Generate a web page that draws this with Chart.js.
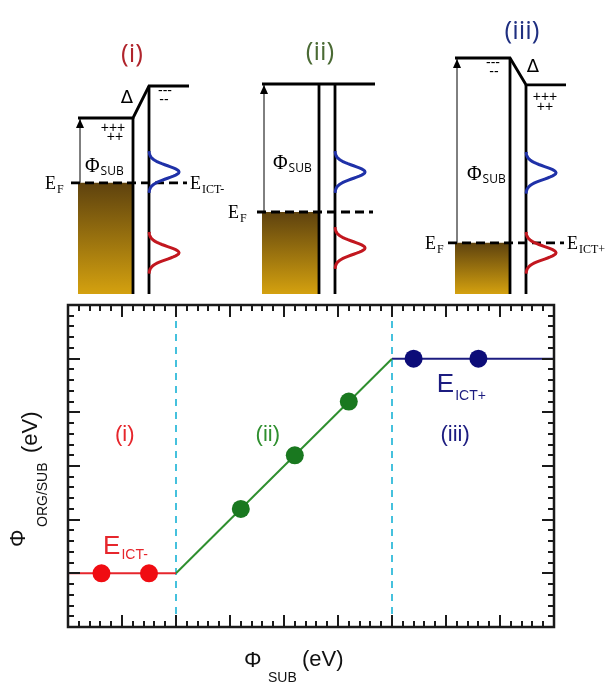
<!DOCTYPE html>
<html>
<head>
<meta charset="utf-8">
<script src="https://cdn.jsdelivr.net/npm/chart.js@4.4.0/dist/chart.umd.min.js"></script>
<style>
  html, body { margin: 0; padding: 0; background: #fff; }
  #wrap { position: relative; width: 610px; height: 684px; }
  #topBox { position: absolute; left: 0; top: 0; width: 610px; height: 300px; }
  #mainBox { position: absolute; left: 0; top: 300px; width: 610px; height: 384px; }
</style>
</head>
<body>
<div id="wrap">
  <div id="topBox"><canvas id="bandChart"></canvas></div>
  <div id="mainBox"><canvas id="mainChart"></canvas></div>
</div>
<script>
// ---- main plot data (arbitrary eV units, no tick labels) ----
const xRange = [0, 9];
const yRange = [0, 6];
const regionNames = ["(i)", "(ii)", "(iii)"];
const regionBounds = [2, 6];
const fitX = [0, 2, 6, 9];
const fitY = [1, 1, 5, 5];
const redX = [0.62, 1.5];
const redY = [1, 1];
const greenX = [3.2, 4.2, 5.2];
const greenY = [2.2, 3.2, 4.2];
const blueX = [6.4, 7.6];
const blueY = [5, 5];

// ---- band diagrams: energy levels on a schematic eV scale ----
const panelNames = ["(i)", "(ii)", "(iii)"];
const vacSub = [4.55, 5.4, 6.05];
const vacOrg = [5.35, 5.4, 5.38];
const fermiLevel = [2.93, 2.2, 1.43];
const ictMinusLevel = [3.2, 3.2, 3.18];
const ictPlusLevel = [1.18, 1.3, 1.18];
const bandBottom = 0.15;

// colours
const cRed = "#e6262c", cGreen = "#2f8f2f", cNavy = "#1c1c80", cCyan = "#45c1dd";
const titleColors = ["#b0242c", "#4a6a34", "#1f2f80"];
const dosBlue = "#1f31a8", dosRed = "#c2171f";

// layout of the schematic (x in canvas px units)
const band = {
  edge: [133, 319, 510],
  metalWidth: [55, 57, 55],
  gap: 16,
  orgWidth: 40,
  fermiFrom: 62,
  fermiTo: 54,
  arrowDx: 2,
  dosHeight: 30,
  titleE: [6.13, 6.18, 6.7],
  titleDx: [-1, 1, 12],
  phiE: [3.375, 3.45, 3.175],
  phiDx: [-48, -46, -43],
  efDx: [-88, -91, -85],
  ictSub: ["ICT-", null, "ICT+"],
  delta: [{ dx: -6, e: 5.05 }, null, { dx: 23, e: 5.825 }],
  charges: [
    [["+++", -20, 4.3], ["++", -18, 4.075], ["---", 32, 5.225], ["--", 31, 5.0]],
    [],
    [["---", -17, 5.925], ["--", -16, 5.7], ["+++", 35, 5.075], ["++", 35, 4.825]],
  ],
};

const toPts = (xs, ys) => xs.map((x, i) => ({ x: x, y: ys[i] }));

function metalGradient(chart, p) {
  const { ctx, chartArea, scales } = chart;
  if (!chartArea) return "#a07a18";
  const y0 = scales.y.getPixelForValue(fermiLevel[p]);
  const y1 = scales.y.getPixelForValue(bandBottom);
  const g = ctx.createLinearGradient(0, y0, 0, y1);
  g.addColorStop(0, "#5e420e");
  g.addColorStop(1, "#d4a10f");
  return g;
}

function subText(ctx, x, y, main, sub, mainFont, subFont, drop) {
  ctx.font = mainFont;
  ctx.fillText(main, x, y);
  const w = ctx.measureText(main).width;
  ctx.font = subFont;
  ctx.fillText(sub, x + w + 1, y + drop);
}

function drawDos(ctx, xs, ys, x0, e0, color) {
  ctx.beginPath();
  for (let i = 0; i <= 40; i++) {
    const e = e0 - 0.52 + (i * 0.52) / 20;
    const g = Math.exp(-0.5 * Math.pow((e - e0) / 0.16, 2));
    const px = xs.getPixelForValue(x0 + band.dosHeight * g);
    const py = ys.getPixelForValue(e);
    if (i === 0) ctx.moveTo(px, py);
    else ctx.lineTo(px, py);
  }
  ctx.strokeStyle = color;
  ctx.lineWidth = 3;
  ctx.stroke();
}

// ---------- top: band diagrams ----------
const bandDatasets = [];
panelNames.forEach((name, p) => {
  const R = band.edge[p];
  const L = R - band.metalWidth[p];
  const O = R + band.gap;
  const line = { borderColor: "#000", borderWidth: 2.8, showLine: true, pointRadius: 0 };
  bandDatasets.push(
    {
      data: [{ x: L, y: fermiLevel[p] }, { x: R, y: fermiLevel[p] }],
      showLine: true, pointRadius: 0, borderWidth: 0,
      fill: { value: bandBottom },
      backgroundColor: (c) => metalGradient(c.chart, p),
      order: 3,
    },
    Object.assign({}, line, {
      data: [{ x: L, y: vacSub[p] }, { x: R, y: vacSub[p] }, { x: O, y: vacOrg[p] }, { x: O + band.orgWidth, y: vacOrg[p] }],
      order: 1,
    }),
    Object.assign({}, line, { data: [{ x: R, y: vacSub[p] }, { x: R, y: bandBottom }], order: 1 }),
    Object.assign({}, line, { data: [{ x: O, y: vacOrg[p] }, { x: O, y: bandBottom }], order: 1 }),
    Object.assign({}, line, {
      data: [{ x: R - band.fermiFrom, y: fermiLevel[p] }, { x: R + band.fermiTo, y: fermiLevel[p] }],
      borderDash: [9, 5], order: 0,
    }),
    Object.assign({}, line, {
      data: [{ x: L + band.arrowDx, y: fermiLevel[p] }, { x: L + band.arrowDx, y: vacSub[p] }],
      borderWidth: 1, order: 2,
    })
  );
});

const bandLabels = {
  id: "bandLabels",
  afterDatasetsDraw(chart) {
    const { ctx, scales: { x, y } } = chart;
    ctx.save();
    panelNames.forEach((name, p) => {
      const R = band.edge[p];
      const L = R - band.metalWidth[p];
      const O = R + band.gap;
      drawDos(ctx, x, y, O, ictMinusLevel[p], dosBlue);
      drawDos(ctx, x, y, O, ictPlusLevel[p], dosRed);

      // arrow head on the work function arrow
      const ax = x.getPixelForValue(L + band.arrowDx);
      const ay = y.getPixelForValue(vacSub[p]) + 1;
      ctx.fillStyle = "#000";
      ctx.beginPath();
      ctx.moveTo(ax, ay);
      ctx.lineTo(ax - 4, ay + 9);
      ctx.lineTo(ax + 4, ay + 9);
      ctx.closePath();
      ctx.fill();

      // panel title
      ctx.fillStyle = titleColors[p];
      ctx.font = '26px "Open Sans", "Liberation Sans", sans-serif';
      ctx.textAlign = "center";
      ctx.textBaseline = "middle";
      ctx.fillText(name, x.getPixelForValue(R + band.titleDx[p]), y.getPixelForValue(band.titleE[p]));

      ctx.textAlign = "left";
      ctx.textBaseline = "alphabetic";
      ctx.fillStyle = "#000";
      // Φ_SUB
      subText(ctx, x.getPixelForValue(R + band.phiDx[p]), y.getPixelForValue(band.phiE[p]) + 7,
        "\u03A6", "SUB", '20px "Liberation Serif", serif', '12px "Open Sans", sans-serif', 3);
      // E_F
      const ef = y.getPixelForValue(fermiLevel[p]);
      subText(ctx, x.getPixelForValue(R + band.efDx[p]), ef + 6,
        "E", "F", '18px "Liberation Serif", serif', '12px "Liberation Serif", serif', 4);
      if (band.ictSub[p]) {
        subText(ctx, x.getPixelForValue(R + band.fermiTo + 3), ef + 6,
          "E", band.ictSub[p], '18px "Liberation Serif", serif', '12px "Liberation Serif", serif', 4);
      }
      // Δ and interface charges
      ctx.textAlign = "center";
      ctx.textBaseline = "middle";
      if (band.delta[p]) {
        ctx.font = '18px "DejaVu Sans", sans-serif';
        ctx.fillText("\u0394", x.getPixelForValue(R + band.delta[p].dx), y.getPixelForValue(band.delta[p].e));
      }
      ctx.font = '14px "Liberation Sans", sans-serif';
      band.charges[p].forEach(([t, dx, e]) => {
        ctx.fillText(t, x.getPixelForValue(R + dx), y.getPixelForValue(e));
      });
    });
    ctx.restore();
  },
};

new Chart(document.getElementById("bandChart"), {
  type: "scatter",
  data: { datasets: bandDatasets },
  options: {
    responsive: true,
    maintainAspectRatio: false,
    animation: false,
    layout: { padding: 0, autoPadding: false },
    elements: { point: { radius: 0 }, line: { tension: 0 } },
    plugins: { legend: { display: false }, tooltip: { enabled: false } },
    scales: {
      x: { type: "linear", display: false, min: 0, max: 610 },
      y: { type: "linear", display: false, min: 0, max: 7.5 },
    },
  },
  plugins: [bandLabels],
});

// ---------- bottom: Φ_ORG/SUB vs Φ_SUB ----------
const mainDatasets = [
  { data: toPts(redX, redY), pointRadius: 9, backgroundColor: "#f00c12", borderWidth: 0, order: 0 },
  { data: toPts(greenX, greenY), pointRadius: 9, backgroundColor: "#19781f", borderWidth: 0, order: 0 },
  { data: toPts(blueX, blueY), pointRadius: 9, backgroundColor: "#0c0c78", borderWidth: 0, order: 0 },
  { data: toPts(fitX.slice(0, 2), fitY.slice(0, 2)), showLine: true, borderColor: cRed, borderWidth: 2, pointRadius: 0, order: 1 },
  { data: toPts(fitX.slice(1, 3), fitY.slice(1, 3)), showLine: true, borderColor: cGreen, borderWidth: 2, pointRadius: 0, order: 1 },
  { data: toPts(fitX.slice(2, 4), fitY.slice(2, 4)), showLine: true, borderColor: cNavy, borderWidth: 2, pointRadius: 0, order: 1 },
].concat(regionBounds.map((b) => ({
  data: [{ x: b, y: yRange[0] }, { x: b, y: yRange[1] }],
  showLine: true, borderColor: cCyan, borderWidth: 2, borderDash: [7, 6], pointRadius: 0, order: 2,
})));

const regionLabelX = [1.05, 3.7, 7.17];
const regionLabelY = 3.58;
const regionColors = [cRed, cGreen, cNavy];

function tick(ctx, x0, y0, x1, y1) {
  ctx.beginPath();
  ctx.moveTo(x0, y0);
  ctx.lineTo(x1, y1);
  ctx.stroke();
}

const frameAndLabels = {
  id: "frameAndLabels",
  afterDraw(chart) {
    const { ctx, chartArea: a, scales: { x, y } } = chart;
    ctx.save();
    ctx.setLineDash([]);
    // inward ticks on all four sides: majors every 1, minors every 0.2
    ctx.strokeStyle = "#1a1a1a";
    ctx.lineWidth = 2;
    const nx = Math.round((xRange[1] - xRange[0]) / 0.2);
    for (let i = 1; i < nx; i++) {
      const px = Math.round(x.getPixelForValue(xRange[0] + i * 0.2));
      const len = i % 5 === 0 ? 12 : 6;
      tick(ctx, px, a.bottom, px, a.bottom - len);
      tick(ctx, px, a.top, px, a.top + len);
    }
    const ny = Math.round((yRange[1] - yRange[0]) / 0.2);
    for (let i = 1; i < ny; i++) {
      const py = Math.round(y.getPixelForValue(yRange[0] + i * 0.2));
      const len = i % 5 === 0 ? 12 : 6;
      tick(ctx, a.left, py, a.left + len, py);
      tick(ctx, a.right, py, a.right - len, py);
    }
    ctx.lineWidth = 2.5;
    ctx.strokeRect(a.left, a.top, a.right - a.left, a.bottom - a.top);

    // region labels
    ctx.font = '22px "Liberation Sans", Arial, sans-serif';
    ctx.textAlign = "center";
    ctx.textBaseline = "middle";
    regionNames.forEach((t, i) => {
      ctx.fillStyle = regionColors[i];
      ctx.fillText(t, x.getPixelForValue(regionLabelX[i]), y.getPixelForValue(regionLabelY));
    });

    ctx.textAlign = "left";
    ctx.textBaseline = "alphabetic";
    ctx.fillStyle = cRed;
    subText(ctx, x.getPixelForValue(0.65), y.getPixelForValue(1.36), "E", "ICT-",
      '26px "Liberation Sans", Arial, sans-serif', '14px "Liberation Sans", Arial, sans-serif', 5);
    ctx.fillStyle = cNavy;
    subText(ctx, x.getPixelForValue(6.83), y.getPixelForValue(4.38), "E", "ICT+",
      '26px "Liberation Sans", Arial, sans-serif', '14px "Liberation Sans", Arial, sans-serif', 8);

    // axis titles
    ctx.fillStyle = "#111";
    ctx.font = '22px "Liberation Sans", Arial, sans-serif';
    ctx.fillText("\u03A6", 244, 367);
    ctx.fillText("(eV)", 302, 366);
    ctx.font = '14px "Liberation Sans", Arial, sans-serif';
    ctx.fillText("SUB", 268, 382);

    ctx.save();
    ctx.translate(25, 247);
    ctx.rotate(-Math.PI / 2);
    ctx.font = '22px "Liberation Sans", Arial, sans-serif';
    ctx.fillText("\u03A6", 0, 0);
    ctx.restore();
    ctx.save();
    ctx.translate(47, 227);
    ctx.rotate(-Math.PI / 2);
    ctx.font = '14px "Liberation Sans", Arial, sans-serif';
    ctx.fillText("ORG/SUB", 0, 0);
    ctx.restore();
    ctx.save();
    ctx.translate(37, 153);
    ctx.rotate(-Math.PI / 2);
    ctx.font = '22px "Liberation Sans", Arial, sans-serif';
    ctx.fillText("(eV)", 0, 0);
    ctx.restore();

    ctx.restore();
  },
};

new Chart(document.getElementById("mainChart"), {
  type: "scatter",
  data: { datasets: mainDatasets },
  options: {
    responsive: true,
    maintainAspectRatio: false,
    animation: false,
    layout: { padding: { left: 68, right: 56, top: 5, bottom: 57 }, autoPadding: false },
    elements: { line: { tension: 0 } },
    plugins: { legend: { display: false }, tooltip: { enabled: false } },
    scales: {
      x: { type: "linear", display: false, min: xRange[0], max: xRange[1] },
      y: { type: "linear", display: false, min: yRange[0], max: yRange[1] },
    },
  },
  plugins: [frameAndLabels],
});
</script>
</body>
</html>
